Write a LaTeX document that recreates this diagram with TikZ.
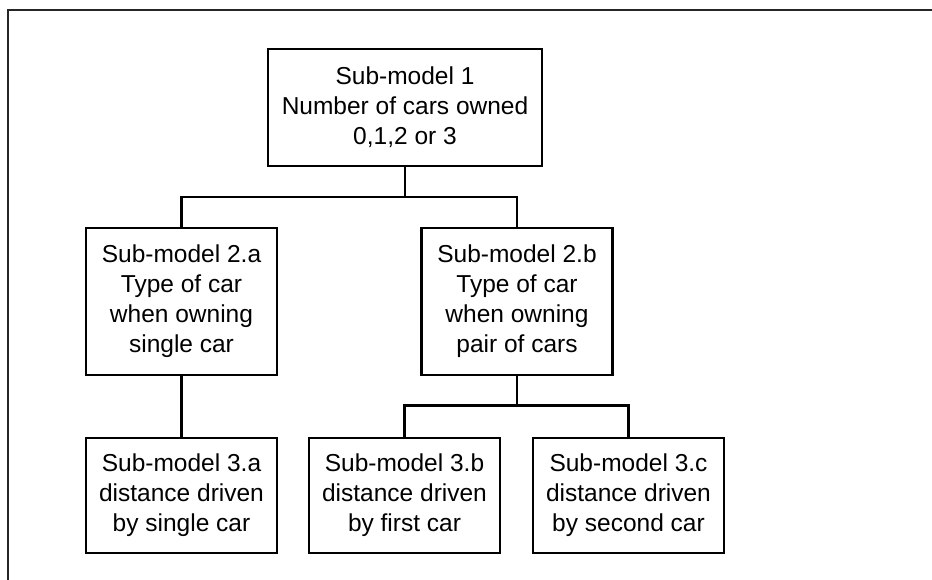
\documentclass[tikz,border=0pt]{standalone}
\usepackage{fontspec}
\setmainfont{Liberation Sans}
\begin{document}
\begin{tikzpicture}[x=1pt,y=-1pt,
  model/.style={draw=black, line width=2.6pt, inner sep=0pt, align=center,
    font=\fontsize{24.5}{30}\selectfont},
  link/.style={draw=black, line width=2.4pt}]
\useasboundingbox (0,0) rectangle (932,579);
\clip (0,0) rectangle (932,579);
% outer frame (its right and bottom sides fall outside the page)
\draw[line width=2pt, black!85] (960,10) -- (8,10) -- (8,600);

% first level
\node[model, minimum width=274pt, minimum height=117pt] (m1) at (405,107.5)
  {Sub-model 1\\Number of cars owned\\0,1,2 or 3};

% second level
\node[model, minimum width=191pt, minimum height=147pt] (m2a) at (181.5,301.5)
  {Sub-model 2.a\\Type of car\\when owning\\single car};
\node[model, minimum width=191pt, minimum height=147pt] (m2b) at (517,301.5)
  {Sub-model 2.b\\Type of car\\when owning\\pair of cars};

% third level
\node[model, minimum width=191pt, minimum height=115pt] (m3a) at (181.5,495.5)
  {Sub-model 3.a\\distance driven\\by single car};
\node[model, minimum width=191pt, minimum height=115pt] (m3b) at (404.5,495.5)
  {Sub-model 3.b\\distance driven\\by first car};
\node[model, minimum width=191pt, minimum height=115pt] (m3c) at (628.5,495.5)
  {Sub-model 3.c\\distance driven\\by second car};

% junctions of the tree
\coordinate (j1) at (m1.south |- 0,197);
\coordinate (j2) at (m2b.south |- 0,405.5);

% connectors
\draw[link] (m1.south) -- (j1);
\draw[link] (m2a.north) |- (j1) -| (m2b.north);
\draw[link] (m2a.south) -- (m3a.north);
\draw[link] (m2b.south) -- (j2);
\draw[link] (m3b.north) |- (j2) -| (m3c.north);
\end{tikzpicture}
\end{document}
